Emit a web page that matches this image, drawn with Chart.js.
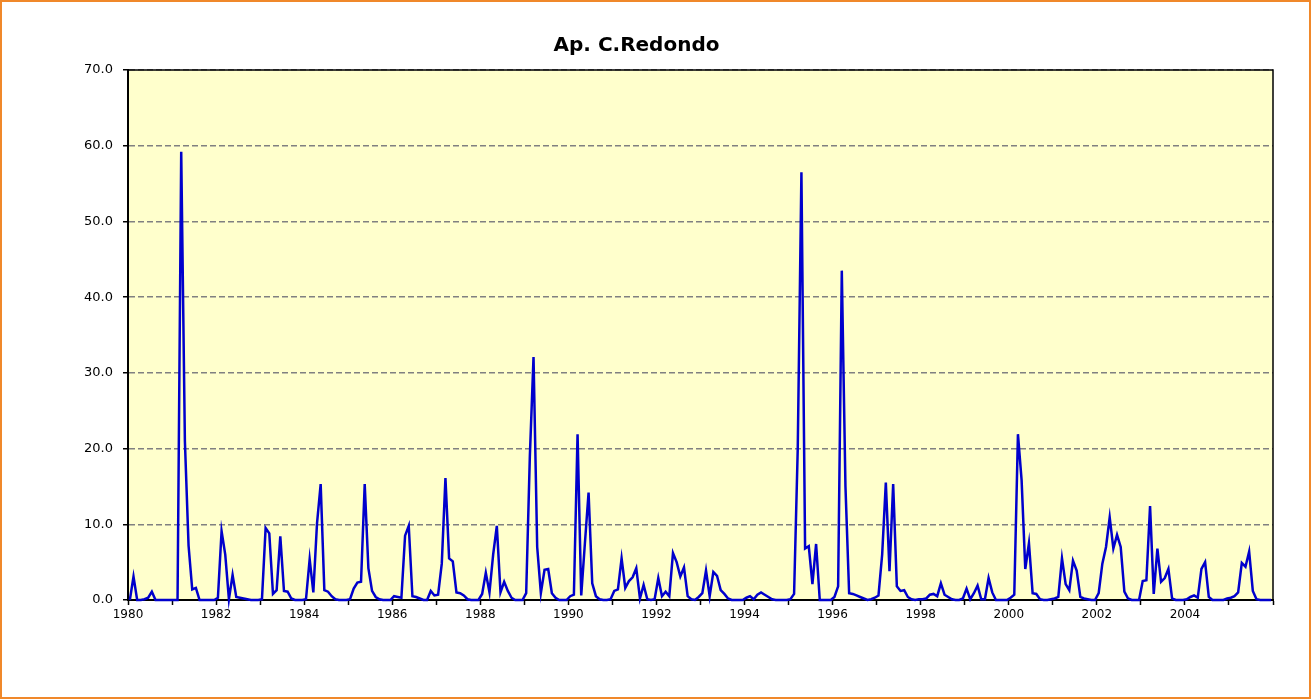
<!DOCTYPE html>
<html><head><meta charset="utf-8">
<script src="https://cdn.jsdelivr.net/npm/chart.js@4.4.0/dist/chart.umd.min.js"></script>
<style>html,body{margin:0;padding:0;background:#fff}canvas{display:block}</style>
</head><body>
<canvas id="c" width="1311" height="700"></canvas>
<script>
const chartTitle = 'Ap. C.Redondo';
const startYear = 1980;
const xTickLabels = ['1980','1982','1984','1986','1988','1990','1992','1994','1996','1998','2000','2002','2004'];
const yTickValues = [0,10,20,30,40,50,60,70];
// monthly values, one row per year (Jan..Dec)
const values = [
  0, 3.1, 0, 0, 0.1, 0.3, 1.1, 0, 0, 0, 0, 0,
  0, 0, 59.2, 21.0, 7.2, 1.4, 1.6, 0, 0, 0, 0, 0,
  0.3, 9.1, 6.0, 0.1, 3.3, 0.4, 0.3, 0.2, 0.1, 0, 0, 0,
  0.1, 9.5, 8.8, 0.8, 1.3, 8.4, 1.2, 1.1, 0.2, 0, 0, 0,
  0.1, 5.4, 1.0, 10.1, 15.3, 1.3, 1.1, 0.5, 0.1, 0, 0, 0,
  0.1, 1.5, 2.3, 2.4, 15.3, 4.2, 1.2, 0.4, 0.1, 0, 0, 0,
  0.5, 0.4, 0.3, 8.5, 9.8, 0.5, 0.4, 0.2, 0, 0, 1.2, 0.6,
  0.7, 4.8, 16.1, 5.5, 5.1, 1.0, 0.9, 0.6, 0.1, 0, 0, 0,
  0.8, 3.6, 1.0, 6.0, 9.8, 1.0, 2.4, 1.2, 0.3, 0, 0, 0,
  0.9, 19.0, 32.1, 7.0, 0.9, 4.0, 4.1, 0.9, 0.3, 0, 0, 0,
  0.5, 0.7, 21.9, 0.6, 7.5, 14.2, 2.2, 0.5, 0.1, 0, 0, 0.1,
  1.2, 1.4, 5.5, 1.6, 2.5, 3.0, 4.2, 0.2, 2.0, 0.1, 0, 0.1,
  2.9, 0.5, 1.1, 0.5, 6.2, 5.0, 3.1, 4.3, 0.5, 0.1, 0, 0.4,
  0.9, 3.9, 0.5, 3.7, 3.2, 1.3, 0.8, 0.2, 0, 0, 0, 0,
  0.3, 0.5, 0.1, 0.7, 1.0, 0.7, 0.4, 0.1, 0, 0, 0, 0,
  0.1, 0.8, 20.0, 56.5, 6.8, 7.1, 2.1, 7.4, 0, 0, 0, 0,
  0.4, 1.8, 43.5, 15.0, 0.9, 0.8, 0.6, 0.4, 0.2, 0, 0.1, 0.3,
  0.6, 6.0, 15.5, 3.8, 15.3, 1.8, 1.2, 1.3, 0.4, 0.1, 0, 0.1,
  0.1, 0.2, 0.7, 0.8, 0.5, 2.2, 0.7, 0.4, 0.1, 0, 0, 0.2,
  1.5, 0.1, 0.9, 1.9, 0.1, 0.1, 2.9, 1.0, 0, 0, 0, 0,
  0.3, 0.7, 21.9, 15.8, 4.1, 7.5, 0.9, 0.8, 0.1, 0, 0, 0.1,
  0.2, 0.4, 5.5, 2.1, 1.3, 5.2, 3.9, 0.4, 0.2, 0.1, 0, 0,
  0.9, 4.8, 7.0, 10.9, 6.8, 8.6, 7.0, 1.1, 0.2, 0, 0, 0,
  2.5, 2.6, 12.4, 0.8, 6.8, 2.4, 2.9, 4.1, 0.2, 0, 0, 0,
  0.1, 0.4, 0.6, 0.3, 4.1, 5.0, 0.4, 0, 0, 0, 0, 0.2,
  0.3, 0.5, 1.0, 4.9, 4.4, 6.4, 1.2, 0.1, 0, 0, 0, 0
];
const months = values.map((v, i) => (startYear + Math.floor(i / 12)) + '-' + String(i % 12 + 1).padStart(2, '0'));
const points = values.map((v, i) => ({ x: i + 0.5, y: v }));

const frame = {
  id: 'frame',
  beforeDraw(chart) {
    const { ctx, chartArea: a } = chart;
    ctx.save();
    ctx.fillStyle = '#ffffff';
    ctx.fillRect(0, 0, chart.width, chart.height);
    ctx.fillStyle = '#FFFFCC';
    ctx.fillRect(a.left, a.top, a.right - a.left, a.bottom - a.top);
    ctx.strokeStyle = '#F0882A';
    ctx.lineWidth = 2;
    ctx.strokeRect(1, 1, chart.width - 2, chart.height - 3);
    ctx.restore();
  },
  beforeDatasetsDraw(chart) {
    const { ctx, chartArea: a } = chart;
    ctx.save();
    ctx.strokeStyle = '#000';
    ctx.lineWidth = 1.5;
    ctx.beginPath();
    ctx.moveTo(a.left, a.top);
    ctx.lineTo(a.right, a.top);
    ctx.lineTo(a.right, a.bottom);
    ctx.stroke();
    ctx.restore();
  }
};

new Chart(document.getElementById('c'), {
  type: 'line',
  data: {
    labels: months,
    datasets: [{
      data: points,
      borderColor: '#0000CC',
      borderWidth: 2.5,
      pointRadius: 0,
      tension: 0,
      fill: false,
      clip: false
    }]
  },
  options: {
    responsive: false,
    animation: false,
    devicePixelRatio: 1,
    layout: { padding: { left: 0, right: 38, top: 0, bottom: 70 } },
    plugins: {
      legend: { display: false },
      tooltip: { enabled: false },
      title: {
        display: true, text: chartTitle, color: '#000',
        font: { family: 'DejaVu Sans', size: 20, weight: 'bold' },
        padding: { top: 34, bottom: 12 }
      }
    },
    scales: {
      x: {
        type: 'linear', min: 0, max: values.length,
        afterBuildTicks(s) {
          const t = [];
          for (let v = 0; v <= values.length; v += 12) t.push({ value: v });
          s.ticks = t;
        },
        afterFit(s) { s.height = 30; },
        ticks: {
          autoSkip: false, maxRotation: 0, minRotation: 0, padding: 3, color: '#000',
          font: { family: 'DejaVu Sans', size: 12 },
          callback(v) { return (v % 24 === 0 && xTickLabels[v / 24] !== undefined) ? xTickLabels[v / 24] : ''; }
        },
        grid: { drawOnChartArea: false, drawTicks: true, tickLength: 5, tickColor: '#000', tickWidth: 1.5 },
        border: { color: '#000', width: 2 }
      },
      y: {
        min: 0, max: 70,
        afterBuildTicks(s) { s.ticks = yTickValues.map(v => ({ value: v })); },
        afterFit(s) { s.width = 128; },
        ticks: {
          padding: 10, color: '#000',
          font: { family: 'DejaVu Sans', size: 13 },
          callback(v) { return Number(v).toFixed(1); }
        },
        grid: { color: '#808080', lineWidth: 1.5, tickColor: '#000', tickLength: 5 },
        border: { color: '#000', width: 2, dash: [6, 3] }
      }
    }
  },
  plugins: [frame]
});
</script>
</body></html>
